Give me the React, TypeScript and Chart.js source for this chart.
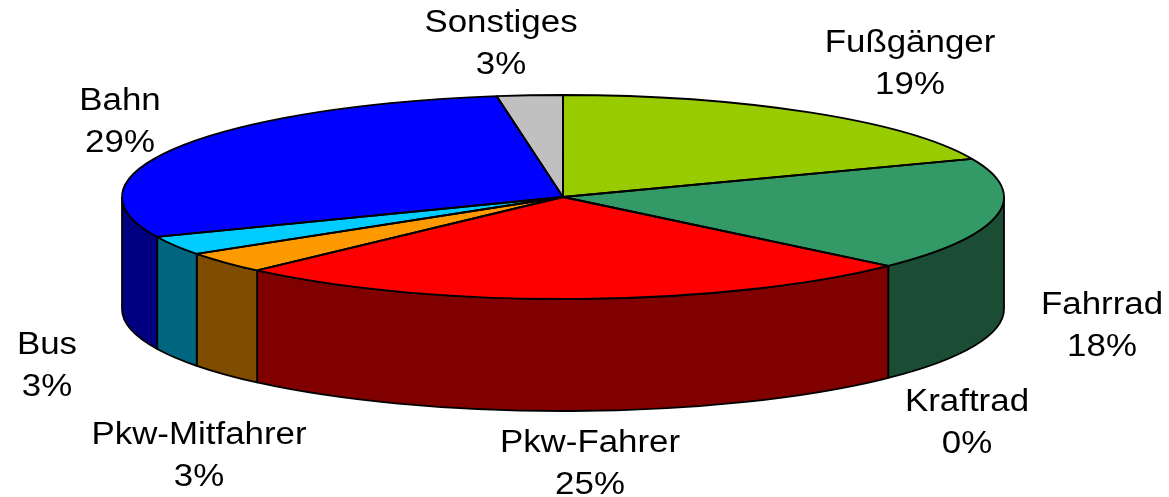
import React, { useEffect, useRef } from "react";
import { Chart, registerables } from "chart.js";

Chart.register(...registerables);

const categories = ["Fußgänger", "Fahrrad", "Kraftrad", "Pkw-Fahrer", "Pkw-Mitfahrer", "Bus", "Bahn", "Sonstiges"];
const shares = [18.9, 17.9, 0, 25.4, 3.4, 3.0, 29.0, 2.4];
const shareLabels = ["19%", "18%", "0%", "25%", "3%", "3%", "29%", "3%"];
const topColors = ["#99CC00", "#339966", "#969696", "#FF0000", "#FF9900", "#00CCFF", "#0000FF", "#C0C0C0"];
const wallColors = ["#4D6600", "#1A4D33", "#4B4B4B", "#800000", "#804D00", "#006680", "#000080", "#606060"];
const labelCenters = [
  [910, 43], [1102, 305], [967, 402], [590, 443], [199, 435], [47, 345], [120, 101], [501, 23],
];

const WIDTH = 1169;
const HEIGHT = 497;
const RADIUS = 441;
const SQUASH = 102 / 441;
const DEPTH = 112;
const CENTER_Y = 197;
const CENTER_X = 563;
const TEXT_STRETCH = 1.125;

const pie3d = {
  id: "pie3d",
  beforeDatasetsDraw(chart: any) {
    const { ctx } = chart;
    const arcs = chart.getDatasetMeta(0).data;
    const cx = arcs[0].x;
    const cy = arcs[0].y;
    const r = arcs[0].outerRadius;
    const ry = r * SQUASH;
    const TAU = Math.PI * 2;
    ctx.save();
    ctx.lineWidth = 1.8;
    ctx.strokeStyle = "#000";
    ctx.lineJoin = "round";

    // side wall: the front half of each slice's rim
    arcs.forEach((arc: any, i: number) => {
      if (arc.endAngle - arc.startAngle <= 0) return;
      for (const shift of [0, TAU, -TAU]) {
        const a0 = Math.max(arc.startAngle + shift, 0);
        const a1 = Math.min(arc.endAngle + shift, Math.PI);
        if (a1 <= a0) continue;
        ctx.beginPath();
        ctx.ellipse(cx, cy, r, ry, 0, a0, a1);
        ctx.lineTo(cx + r * Math.cos(a1), cy + ry * Math.sin(a1) + DEPTH);
        ctx.ellipse(cx, cy + DEPTH, r, ry, 0, a1, a0, true);
        ctx.closePath();
        ctx.fillStyle = wallColors[i];
        ctx.fill();
        ctx.stroke();
      }
    });

    // top face: the library's own arcs, squashed to an ellipse
    ctx.save();
    ctx.translate(cx, cy);
    ctx.scale(1, SQUASH);
    ctx.translate(-cx, -cy);
    arcs.forEach((arc: any) => arc.draw(ctx));
    ctx.restore();

    // top outlines
    arcs.forEach((arc: any) => {
      if (arc.endAngle - arc.startAngle <= 0) return;
      ctx.beginPath();
      ctx.moveTo(cx, cy);
      ctx.ellipse(cx, cy, r, ry, 0, arc.startAngle, arc.endAngle);
      ctx.closePath();
      ctx.stroke();
    });
    ctx.restore();
    return false;
  },
  afterDraw(chart: any) {
    const { ctx } = chart;
    ctx.save();
    ctx.fillStyle = "#000";
    ctx.font = '31px "Liberation Sans", Arial, sans-serif';
    ctx.textAlign = "center";
    ctx.textBaseline = "middle";
    categories.forEach((name, i) => {
      const [x, y] = labelCenters[i];
      ctx.save();
      ctx.translate(x, y);
      ctx.scale(TEXT_STRETCH, 1);
      ctx.fillText(name, 0, 0);
      ctx.fillText(shareLabels[i], 0, 42);
      ctx.restore();
    });
    ctx.restore();
  },
};

export default function App() {
  const ref = useRef<HTMLCanvasElement>(null);
  useEffect(() => {
    const chart = new Chart(ref.current!, {
      type: "pie",
      data: {
        labels: categories,
        datasets: [{ data: shares, backgroundColor: topColors, borderWidth: 0 }],
      },
      options: {
        animation: false,
        responsive: false,
        radius: RADIUS,
        layout: {
          padding: {
            left: Math.max(0, 2 * CENTER_X - WIDTH),
            right: Math.max(0, WIDTH - 2 * CENTER_X),
            top: Math.max(0, 2 * CENTER_Y - HEIGHT),
            bottom: Math.max(0, HEIGHT - 2 * CENTER_Y),
          },
        },
        plugins: { legend: { display: false }, tooltip: { enabled: false } },
      },
      plugins: [pie3d],
    } as any);
    return () => chart.destroy();
  }, []);
  return (
    <div style={{ position: "absolute", left: 0, top: 0, width: WIDTH, height: HEIGHT, background: "#fff" }}>
      <canvas ref={ref} width={WIDTH} height={HEIGHT} style={{ display: "block" }} />
    </div>
  );
}
